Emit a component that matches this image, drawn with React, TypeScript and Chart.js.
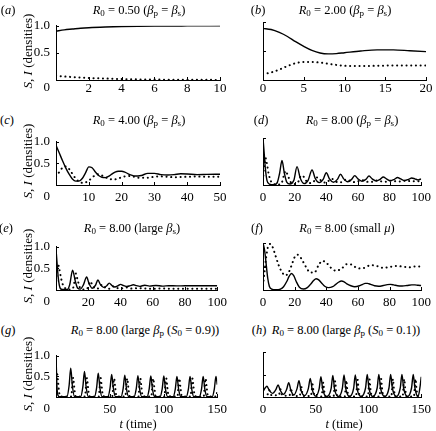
import React, { useEffect, useRef } from "react";
import { Chart, registerables } from "chart.js";
Chart.register(...registerables);

const FONT = "'Liberation Serif', 'Times New Roman', Times, 'DejaVu Serif', serif";

// ---------- data ----------
const aT = [0, 0.5, 1, 1.5, 2, 3, 4, 5, 6, 8, 10];
const aS = [0.9, 0.925, 0.94, 0.955, 0.965, 0.978, 0.987, 0.992, 0.995, 0.998, 1.0];
const aI = [0.08, 0.065, 0.055, 0.045, 0.038, 0.027, 0.018, 0.012, 0.008, 0.004, 0.002];

const bT = [0, 1, 2, 3, 4, 5, 6, 7, 8, 9, 10, 12, 14, 16, 18, 20];
const bS = [0.89, 0.87, 0.82, 0.75, 0.66, 0.58, 0.51, 0.465, 0.45, 0.455, 0.47, 0.5, 0.52, 0.52, 0.505, 0.49];
const bI = [0.1, 0.13, 0.18, 0.24, 0.29, 0.31, 0.31, 0.3, 0.28, 0.26, 0.245, 0.24, 0.245, 0.25, 0.25, 0.25];

const cT = [0, 1, 2, 3, 4, 5, 6, 7, 8, 9, 10, 11, 12, 13, 14, 15, 16, 17, 18, 19, 20, 21, 22, 23, 24, 25, 26, 28, 30, 32, 34, 36, 38, 40, 43, 46, 50];
const cS = [0.92, 0.74, 0.56, 0.39, 0.25, 0.14, 0.09, 0.09, 0.15, 0.28, 0.42, 0.4, 0.3, 0.22, 0.18, 0.17, 0.2, 0.25, 0.3, 0.32, 0.32, 0.3, 0.26, 0.23, 0.21, 0.21, 0.22, 0.27, 0.27, 0.24, 0.23, 0.24, 0.26, 0.255, 0.24, 0.245, 0.25];
const cI = [0.2, 0.3, 0.4, 0.43, 0.37, 0.26, 0.15, 0.08, 0.05, 0.06, 0.1, 0.17, 0.23, 0.25, 0.22, 0.18, 0.15, 0.13, 0.13, 0.15, 0.18, 0.2, 0.21, 0.2, 0.19, 0.17, 0.17, 0.17, 0.19, 0.2, 0.19, 0.18, 0.185, 0.19, 0.195, 0.19, 0.19];

const dST = [0, 0.7, 1.5, 2.5, 4, 7, 9, 10.5, 12, 13.5, 15, 17, 19.5, 21.5, 23.5, 26, 28.5, 31, 33, 35.5, 38, 40, 42, 44.5, 47, 49, 51, 53.5, 56, 58, 60, 62.5, 65, 67, 69, 71.5, 74, 76, 78, 80.5, 83, 85, 87, 89.5, 92, 94, 96, 98, 100];
const dS = [1.0, 0.7, 0.35, 0.1, 0.02, 0.005, 0.05, 0.25, 0.52, 0.25, 0.06, 0.02, 0.1, 0.39, 0.15, 0.03, 0.1, 0.32, 0.14, 0.05, 0.12, 0.26, 0.13, 0.06, 0.12, 0.23, 0.13, 0.07, 0.12, 0.2, 0.13, 0.08, 0.12, 0.19, 0.13, 0.085, 0.12, 0.17, 0.13, 0.09, 0.12, 0.16, 0.13, 0.095, 0.12, 0.15, 0.13, 0.11, 0.13];
const dIT = [0, 0.7, 1.5, 2.5, 3.5, 5, 7, 10, 12, 13.3, 14.3, 15.5, 17.5, 20, 22.5, 23.8, 25, 27, 29.5, 32, 33.5, 34.8, 37, 39.5, 41.5, 43, 44.5, 47, 50, 52, 53.5, 56, 59, 61.5, 63, 65.5, 68.5, 71, 72.5, 75, 78, 80.5, 82, 84.5, 87.5, 90, 91.5, 94, 97, 100];
const dI = [0.1, 0.4, 0.58, 0.45, 0.25, 0.08, 0.02, 0.01, 0.06, 0.22, 0.3, 0.22, 0.06, 0.02, 0.08, 0.19, 0.2, 0.1, 0.04, 0.07, 0.15, 0.16, 0.08, 0.05, 0.09, 0.13, 0.12, 0.06, 0.06, 0.11, 0.11, 0.07, 0.06, 0.1, 0.1, 0.07, 0.065, 0.095, 0.095, 0.075, 0.07, 0.09, 0.09, 0.075, 0.075, 0.09, 0.088, 0.078, 0.078, 0.085];

const eST = [0, 0.7, 1.5, 2.5, 4, 7, 8.5, 10.3, 12, 13.5, 15, 17, 19, 20.5, 22.5, 24.5, 26, 27.5, 29.5, 31.5, 33, 34.8, 36.5, 38.5, 40, 42, 44, 46, 48, 50, 52, 55, 58, 62, 66, 70, 75, 80, 90, 100];
const eS = [0.95, 0.6, 0.25, 0.05, 0.01, 0.01, 0.12, 0.46, 0.2, 0.04, 0.02, 0.12, 0.3, 0.15, 0.04, 0.11, 0.23, 0.13, 0.06, 0.1, 0.16, 0.1, 0.07, 0.1, 0.13, 0.1, 0.08, 0.1, 0.12, 0.1, 0.085, 0.11, 0.09, 0.105, 0.09, 0.1, 0.095, 0.098, 0.097, 0.097];
const eIT = [0, 0.5, 1.2, 2, 3, 4, 5.5, 8, 10.5, 11.5, 12.3, 13.3, 14.8, 17, 19.5, 20.5, 21.3, 22.5, 24.5, 26.5, 27.5, 28.5, 30, 32, 34, 35.3, 36.3, 38, 40, 42, 43.5, 45.5, 48, 51, 55, 60, 65, 70, 80, 90, 100];
const eI = [0.1, 0.4, 0.6, 0.5, 0.3, 0.15, 0.05, 0.01, 0.04, 0.2, 0.38, 0.25, 0.06, 0.01, 0.04, 0.14, 0.2, 0.12, 0.03, 0.04, 0.09, 0.12, 0.07, 0.03, 0.04, 0.08, 0.08, 0.045, 0.03, 0.05, 0.06, 0.04, 0.03, 0.045, 0.035, 0.03, 0.035, 0.03, 0.03, 0.03, 0.03];

const fST = [0, 1, 2, 3, 4, 5.5, 8, 11, 13, 15, 16.5, 18, 19.5, 21, 23, 25.5, 28, 30, 32, 33.5, 35, 37, 39, 41.5, 44, 46, 48, 49.5, 51, 53, 55.5, 58, 61, 63, 64.5, 66, 68, 70.5, 73, 76, 78.5, 80.5, 82.5, 85, 88, 91, 94, 96, 98, 100];
const fS = [1.0, 0.85, 0.55, 0.25, 0.08, 0.02, 0.005, 0.02, 0.07, 0.18, 0.29, 0.35, 0.3, 0.18, 0.06, 0.02, 0.05, 0.12, 0.2, 0.24, 0.22, 0.15, 0.08, 0.05, 0.07, 0.12, 0.17, 0.19, 0.18, 0.13, 0.09, 0.07, 0.09, 0.12, 0.14, 0.14, 0.12, 0.09, 0.08, 0.095, 0.115, 0.12, 0.11, 0.09, 0.085, 0.095, 0.11, 0.11, 0.1, 0.095];
const fIT = [0, 1, 2, 3, 4.5, 6, 8, 10, 12, 14, 16, 18, 20, 22, 24, 27, 30, 32.5, 35, 37.5, 40, 43, 46, 49.5, 53, 56, 60, 64, 68, 72, 76, 80, 84, 88, 92, 96, 100];
const fI = [0.1, 0.4, 0.7, 0.9, 0.98, 0.92, 0.72, 0.52, 0.38, 0.31, 0.36, 0.52, 0.7, 0.75, 0.68, 0.5, 0.37, 0.37, 0.52, 0.62, 0.58, 0.47, 0.41, 0.45, 0.55, 0.54, 0.46, 0.47, 0.53, 0.51, 0.47, 0.49, 0.51, 0.5, 0.48, 0.5, 0.5];

const gST = [0, 0.5, 1, 1.8, 3, 10.2, 12.2, 13.7, 15.2, 17.2, 23, 25, 26.5, 28, 30, 35.8, 37.8, 39.3, 40.8, 42.8, 48.3, 50.3, 51.8, 53.3, 55.3, 60.5, 62.5, 64, 65.5, 67.5, 72.7, 74.7, 76.2, 77.7, 79.7, 84.7, 86.7, 88.2, 89.7, 91.7, 96.8, 98.8, 100.3, 101.8, 103.8, 109, 111, 112.5, 114, 116, 121.2, 123.2, 124.7, 126.2, 128.2, 133.4, 135.4, 136.9, 138.4, 140.4, 145.3, 147.3, 148.8, 150];
const gS = [1.0, 0.55, 0.2, 0.04, 0.01, 0.01, 0.28, 0.7, 0.28, 0.01, 0.01, 0.25, 0.62, 0.25, 0.01, 0.01, 0.23, 0.58, 0.23, 0.01, 0.01, 0.22, 0.55, 0.22, 0.01, 0.01, 0.21, 0.53, 0.21, 0.01, 0.01, 0.21, 0.52, 0.21, 0.01, 0.01, 0.2, 0.51, 0.2, 0.01, 0.01, 0.2, 0.51, 0.2, 0.01, 0.01, 0.2, 0.5, 0.2, 0.01, 0.01, 0.2, 0.5, 0.2, 0.01, 0.01, 0.2, 0.5, 0.2, 0.01, 0.01, 0.2, 0.5, 0.3];
const gIT = [0, 0.5, 1.2, 2, 3, 4.5, 14.2, 15.2, 16, 16.9, 18.2, 27, 28, 28.8, 29.7, 31, 39.8, 40.8, 41.6, 42.5, 43.8, 52.3, 53.3, 54.1, 55, 56.3, 64.5, 65.5, 66.3, 67.2, 68.5, 76.7, 77.7, 78.5, 79.4, 80.7, 88.7, 89.7, 90.5, 91.4, 92.7, 100.8, 101.8, 102.6, 103.5, 104.8, 113, 114, 114.8, 115.7, 117, 125.2, 126.2, 127, 127.9, 129.2, 137.4, 138.4, 139.2, 140.1, 141.4, 149.3, 150];
const gI = [0.1, 0.45, 0.55, 0.35, 0.1, 0.01, 0.01, 0.3, 0.47, 0.25, 0.02, 0.01, 0.3, 0.46, 0.25, 0.02, 0.01, 0.3, 0.46, 0.25, 0.02, 0.01, 0.3, 0.45, 0.25, 0.02, 0.01, 0.3, 0.45, 0.25, 0.02, 0.01, 0.3, 0.45, 0.25, 0.02, 0.01, 0.3, 0.45, 0.25, 0.02, 0.01, 0.3, 0.45, 0.25, 0.02, 0.01, 0.3, 0.45, 0.25, 0.02, 0.01, 0.3, 0.45, 0.25, 0.02, 0.01, 0.3, 0.45, 0.25, 0.02, 0.01, 0.2];

const hST = [0, 2, 3.7, 5.5, 9, 12.3, 14.3, 16.3, 19.5, 22.4, 24.4, 26.4, 29.3, 32.2, 34.1, 36, 39.5, 42.9, 44.8, 46.7, 50, 53.2, 54.9, 56.6, 60.5, 64.6, 66.2, 67.8, 71.5, 75.2, 76.8, 78.4, 82, 85.9, 87.5, 89.1, 93, 97.2, 98.8, 100.4, 104, 108.2, 109.8, 111.4, 115.5, 119.4, 121, 122.6, 126.5, 130.1, 131.7, 133.3, 137, 140.8, 142.4, 144, 147, 149, 150];
const hS = [0.12, 0.2, 0.24, 0.17, 0.08, 0.17, 0.27, 0.15, 0.06, 0.17, 0.32, 0.15, 0.045, 0.18, 0.36, 0.15, 0.03, 0.18, 0.41, 0.16, 0.02, 0.18, 0.45, 0.17, 0.01, 0.19, 0.48, 0.18, 0.01, 0.19, 0.49, 0.19, 0.01, 0.19, 0.49, 0.19, 0.01, 0.2, 0.5, 0.2, 0.01, 0.2, 0.5, 0.2, 0.01, 0.2, 0.5, 0.2, 0.01, 0.2, 0.5, 0.2, 0.01, 0.2, 0.5, 0.2, 0.01, 0.25, 0.45];
const hIT = [0, 2, 4.4, 5.2, 5.9, 6.7, 8.2, 15, 15.8, 16.5, 17.3, 18.8, 25.1, 25.9, 26.6, 27.4, 28.9, 34.8, 35.6, 36.3, 37.1, 38.6, 45.5, 46.3, 47, 47.8, 49.3, 55.6, 56.4, 57.1, 57.9, 59.4, 66.9, 67.7, 68.4, 69.2, 70.7, 77.5, 78.3, 79, 79.8, 81.3, 88.2, 89, 89.7, 90.5, 92, 99.5, 100.3, 101, 101.8, 103.3, 110.5, 111.3, 112, 112.8, 114.3, 121.7, 122.5, 123.2, 124, 125.5, 132.4, 133.2, 133.9, 134.7, 136.2, 143.1, 143.9, 144.6, 145.4, 146.9, 150];
const hI = [0.05, 0.05, 0.06, 0.1, 0.15, 0.09, 0.04, 0.04, 0.1, 0.17, 0.09, 0.03, 0.03, 0.12, 0.2, 0.1, 0.02, 0.02, 0.14, 0.24, 0.12, 0.02, 0.02, 0.17, 0.28, 0.14, 0.01, 0.01, 0.19, 0.32, 0.16, 0.01, 0.01, 0.21, 0.35, 0.17, 0.01, 0.01, 0.22, 0.37, 0.18, 0.01, 0.01, 0.23, 0.38, 0.19, 0.01, 0.01, 0.24, 0.39, 0.19, 0.01, 0.01, 0.24, 0.4, 0.2, 0.01, 0.01, 0.24, 0.4, 0.2, 0.01, 0.01, 0.24, 0.4, 0.2, 0.01, 0.01, 0.24, 0.4, 0.2, 0.01, 0.01];

// axis settings
const yTicks = [0, 0.5, 1];
const yTickLabels = ["0", "0.5", "1.0"];
const xMaxes: Record<string, number> = { a: 10, b: 20, c: 50, d: 100, e: 100, f: 100, g: 150, h: 150 };
const xSteps: Record<string, number> = { a: 2, b: 5, c: 10, d: 20, e: 20, f: 20, g: 50, h: 50 };

// ---------- layout ----------
const ROWS = [
  { top: 22, bottom: 80, pad: 1, zeroOff: 8 },
  { top: 138, bottom: 185, pad: 5, zeroOff: 12 },
  { top: 243, bottom: 290, pad: 5, zeroOff: 12 },
  { top: 352, bottom: 397, pad: 5, zeroOff: 12 },
];
const PAD_TOP = 10;
const X_H = 24;
const PAD_BOTTOM = 4;

const innerTicks = {
  id: "innerTicks",
  afterDatasetsDraw(chart: any) {
    const { ctx, chartArea, scales } = chart;
    ctx.save();
    ctx.strokeStyle = "#000";
    ctx.lineWidth = 1;
    ctx.beginPath();
    scales.x.ticks.forEach((t: any) => {
      const px = Math.round(scales.x.getPixelForValue(t.value)) + 0.5;
      ctx.moveTo(px, chartArea.bottom);
      ctx.lineTo(px, chartArea.bottom - 3);
    });
    scales.y.ticks.forEach((t: any) => {
      const py = Math.round(scales.y.getPixelForValue(t.value)) + 0.5;
      ctx.moveTo(chartArea.left, py);
      ctx.lineTo(chartArea.left + 3, py);
    });
    ctx.stroke();
    ctx.restore();
  },
};

// draws the y-axis "0" label, which sits below the axis corner in the reference
const zeroLabel = {
  id: "zeroLabel",
  afterDraw(chart: any, _args: any, opts: any) {
    if (!opts || !opts.show) return;
    const y = chart.scales.y;
    const ctx = chart.ctx;
    ctx.save();
    ctx.fillStyle = "#000";
    ctx.font = "13px " + FONT;
    ctx.textAlign = "right";
    ctx.textBaseline = "middle";
    ctx.fillText(yTickLabels[0], y.right - 6, y.getPixelForValue(yTicks[0]) + opts.offset);
    ctx.restore();
  },
};

function pts(t: number[], v: number[]) {
  return t.map((x, i) => ({ x, y: v[i] }));
}

type PanelProps = { id: string; col: number; row: number; sT: number[]; sV: number[]; iT: number[]; iV: number[] };

function Panel({ id, col, row, sT, sV, iT, iV }: PanelProps) {
  const ref = useRef<HTMLCanvasElement>(null);
  const r = ROWS[row];
  const left = col === 0;
  const yW = left ? 56 : 10;
  const padRight = left ? 12 : 10;
  const canvasLeft = left ? 0 : 253;
  const width = left ? 232 : 183;
  const height = PAD_TOP + (r.bottom - r.top) + X_H + PAD_BOTTOM;
  const canvasTop = r.top - PAD_TOP;

  useEffect(() => {
    if (!ref.current) return;
    const tickFont = { family: FONT, size: 13, lineHeight: 1.2 };
    const chart = new Chart(ref.current, {
      type: "line",
      data: {
        datasets: [
          { data: pts(sT, sV), borderColor: "#000", borderWidth: 1.4, pointRadius: 0, cubicInterpolationMode: "monotone", fill: false },
          {
            data: pts(iT, iV),
            borderColor: "#000",
            borderWidth: 2,
            borderDash: [0.1, 4.6],
            borderCapStyle: "round",
            pointRadius: 0,
            cubicInterpolationMode: "monotone",
            fill: false,
          },
        ],
      },
      options: {
        animation: false,
        responsive: false,
        maintainAspectRatio: false,
        events: [],
        layout: { padding: { top: PAD_TOP, right: padRight, bottom: PAD_BOTTOM, left: 0 } },
        plugins: {
          legend: { display: false },
          tooltip: { enabled: false },
          title: { display: false },
          zeroLabel: { show: left, offset: r.zeroOff },
        },
        scales: {
          x: {
            type: "linear",
            min: 0,
            max: xMaxes[id],
            grid: { display: true, drawOnChartArea: false, drawTicks: false },
            border: { display: true, color: "#000", width: 1 },
            ticks: {
              stepSize: xSteps[id],
              padding: r.pad,
              color: "#000",
              font: tickFont,
              maxRotation: 0,
              autoSkip: false,
              callback: (v: any) => (left && v === 0 ? "" : String(v)),
            },
            afterFit: (s: any) => {
              s.height = X_H;
            },
          },
          y: {
            type: "linear",
            min: 0,
            max: 1,
            afterBuildTicks: (s: any) => {
              s.ticks = yTicks.map((v) => ({ value: v }));
            },
            grid: { display: true, drawOnChartArea: false, drawTicks: false },
            border: { display: true, color: "#000", width: 1 },
            ticks: {
              display: left,
              autoSkip: false,
              padding: 6,
              color: "#000",
              font: tickFont,
              callback: (v: any) => (v === 0 ? "" : yTickLabels[yTicks.indexOf(v)]),
            },
            afterFit: (s: any) => {
              s.width = yW;
            },
          },
        },
      } as any,
      plugins: [innerTicks, zeroLabel],
    } as any);
    return () => chart.destroy();
  }, []);

  return <canvas ref={ref} width={width} height={height} style={{ position: "absolute", left: canvasLeft, top: canvasTop, width, height }} />;
}

const txt: React.CSSProperties = {
  position: "absolute",
  transform: "translate(-50%, -50%)",
  whiteSpace: "nowrap",
  fontFamily: FONT,
  fontSize: 12.5,
  lineHeight: "15px",
  color: "#000",
};
const subS: React.CSSProperties = { fontSize: "0.72em", verticalAlign: "-0.3em", lineHeight: 0 };

function Sub({ children }: { children: React.ReactNode }) {
  return <sub style={subS}>{children}</sub>;
}
function Label({ x, y, children }: { x: number; y: number; children: React.ReactNode }) {
  return <div style={{ ...txt, left: x, top: y }}>{children}</div>;
}
const R0 = () => (<><i>R</i><Sub>0</Sub></>);
const BpBs = () => (<>(<i>β</i><Sub>p</Sub> = <i>β</i><Sub>s</Sub>)</>);

function YTitle({ y }: { y: number }) {
  return (
    <div style={{ ...txt, fontSize: 13, left: 27, top: y, transform: "translate(-50%, -50%) rotate(-90deg)" }}>
      <i>S</i>, <i>I</i> (densities)
    </div>
  );
}

export default function App() {
  return (
    <div style={{ position: "absolute", left: 0, top: 0, width: 436, height: 431, background: "#fff", overflow: "hidden" }}>
      <Panel id="a" col={0} row={0} sT={aT} sV={aS} iT={aT} iV={aI} />
      <Panel id="b" col={1} row={0} sT={bT} sV={bS} iT={bT} iV={bI} />
      <Panel id="c" col={0} row={1} sT={cT} sV={cS} iT={cT} iV={cI} />
      <Panel id="d" col={1} row={1} sT={dST} sV={dS} iT={dIT} iV={dI} />
      <Panel id="e" col={0} row={2} sT={eST} sV={eS} iT={eIT} iV={eI} />
      <Panel id="f" col={1} row={2} sT={fST} sV={fS} iT={fIT} iV={fI} />
      <Panel id="g" col={0} row={3} sT={gST} sV={gS} iT={gIT} iV={gI} />
      <Panel id="h" col={1} row={3} sT={hST} sV={hS} iT={hIT} iV={hI} />

      <Label x={8} y={10}>(<i>a</i>)</Label>
      <Label x={139} y={10}><R0 /> = 0.50 <BpBs /></Label>
      <Label x={258} y={10}>(<i>b</i>)</Label>
      <Label x={345} y={10}><R0 /> = 2.00 <BpBs /></Label>

      <Label x={7} y={120}>(<i>c</i>)</Label>
      <Label x={139} y={120}><R0 /> = 4.00 <BpBs /></Label>
      <Label x={261} y={120}>(<i>d</i>)</Label>
      <Label x={352} y={120}><R0 /> = 8.00 <BpBs /></Label>

      <Label x={6} y={228}>(<i>e</i>)</Label>
      <Label x={132} y={228}><R0 /> = 8.00 (large <i>β</i><Sub>s</Sub>)</Label>
      <Label x={257} y={228}>(<i>f</i>)</Label>
      <Label x={347} y={228}><R0 /> = 8.00 (small <i>μ</i>)</Label>

      <Label x={8} y={330}>(<i>g</i>)</Label>
      <Label x={145} y={330}><R0 /> = 8.00 (large <i>β</i><Sub>p</Sub> (<i>S</i><Sub>0</Sub> = 0.9))</Label>
      <Label x={259} y={330}>(<i>h</i>)</Label>
      <Label x={346} y={330}><R0 /> = 8.00 (large <i>β</i><Sub>p</Sub> (<i>S</i><Sub>0</Sub> = 0.1))</Label>

      <YTitle y={51} />
      <YTitle y={161} />
      <YTitle y={266} />
      <YTitle y={374} />

      <Label x={138} y={424}><i>t</i> (time)</Label>
      <Label x={344} y={424}><i>t</i> (time)</Label>
    </div>
  );
}
